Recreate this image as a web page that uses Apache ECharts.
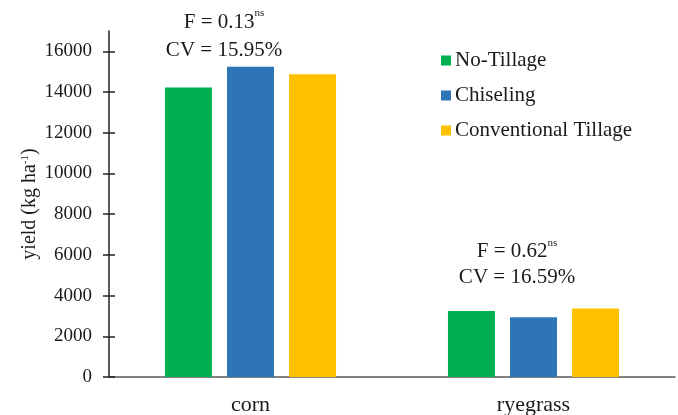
<!DOCTYPE html>
<html>
<head>
<meta charset="utf-8">
<script src="https://cdn.jsdelivr.net/npm/echarts@6/dist/echarts.min.js"></script>
<style>
  html, body { margin: 0; padding: 0; background: #fff; }
  #chart { width: 678px; height: 415px; }
</style>
</head>
<body>
<div id="chart"></div>
<script>
// data
const crops = ['corn', 'ryegrass']
const noTillage = [14230, 3240]
const chiseling = [15240, 2930]
const conventional = [14870, 3360]
const yTicks = [0, 2000, 4000, 6000, 8000, 10000, 12000, 14000, 16000]
const fTests = [['0.13', '15.95%'], ['0.62', '16.59%']]

const font = 'Liberation Serif'
const ink = '#1a1a1a'

let chart = echarts.init(document.getElementById('chart'))

function barSeries (name, data, color) {
  return {
    name: name,
    type: 'bar',
    data: data,
    barWidth: 47,
    barGap: '32%',
    itemStyle: { color: color },
    emphasis: { disabled: true }
  }
}

// F / CV annotations, centred on x
function annot (i, x, y, lh) {
  return {
    type: 'text',
    x: x,
    y: y,
    style: {
      text: '{t|F = ' + fTests[i][0] + '}{s|ns}\n{t|CV = ' + fTests[i][1] + '}',
      align: 'center',
      verticalAlign: 'top',
      fill: ink,
      rich: {
        t: { fontFamily: font, fontSize: 21, lineHeight: lh, fill: ink },
        s: { fontFamily: font, fontSize: 11, lineHeight: lh, verticalAlign: 'top', padding: [0, 0, 8, 0], fill: ink }
      }
    }
  }
}

const option = {
  animation: false,
  grid: { left: 109, right: 3, top: 31, bottom: 38, containLabel: false, outerBoundsMode: 'none' },
  legend: {
    orient: 'vertical',
    left: 436,
    top: 45,
    itemGap: 14,
    itemWidth: 10,
    itemHeight: 10,
    icon: 'rect',
    textStyle: { fontFamily: font, fontSize: 21, color: ink, padding: [0, 0, 0, -1] },
    data: ['No-Tillage', 'Chiseling', 'Conventional Tillage']
  },
  xAxis: {
    type: 'category',
    data: crops,
    axisLine: { lineStyle: { color: '#595959', width: 1.5 } },
    axisTick: { show: false },
    axisLabel: { fontFamily: font, fontSize: 22, color: ink, margin: 17 }
  },
  yAxis: [{
    type: 'value',
    min: 0,
    max: 17000,
    interval: 2000,
    name: '{a|yield (kg ha}{s|-1}{a|)}',
    nameLocation: 'middle',
    nameRotate: 90,
    nameGap: 69,
    nameMoveOverlap: false,
    nameTextStyle: {
      rich: {
        a: { fontFamily: font, fontSize: 20, color: ink },
        s: { fontFamily: font, fontSize: 11, color: ink, verticalAlign: 'top', padding: [0, 0, 9, 0] }
      }
    },
    splitLine: { show: false },
    axisLine: { show: true, lineStyle: { color: '#222', width: 1.5 } },
    axisTick: { show: true, length: 6, customValues: yTicks, lineStyle: { color: '#222', width: 1.5 } },
    axisLabel: { fontFamily: font, fontSize: 19, color: ink, margin: 17, customValues: yTicks, formatter: v => String(v) }
  }, {
    // inner half of the cross ticks
    type: 'value',
    position: 'left',
    min: 0,
    max: 17000,
    interval: 2000,
    splitLine: { show: false },
    axisLine: { show: false },
    axisLabel: { show: false },
    axisTick: { show: true, inside: true, length: 6, customValues: yTicks, lineStyle: { color: '#222', width: 1.5 } }
  }],
  series: [
    barSeries('No-Tillage', noTillage, '#00B050'),
    barSeries('Chiseling', chiseling, '#2E75B6'),
    barSeries('Conventional Tillage', conventional, '#FFC000')
  ],
  graphic: [annot(0, 224, 8, 28), annot(1, 517, 238, 26)]
}

chart.setOption(option)
</script>
</body>
</html>
